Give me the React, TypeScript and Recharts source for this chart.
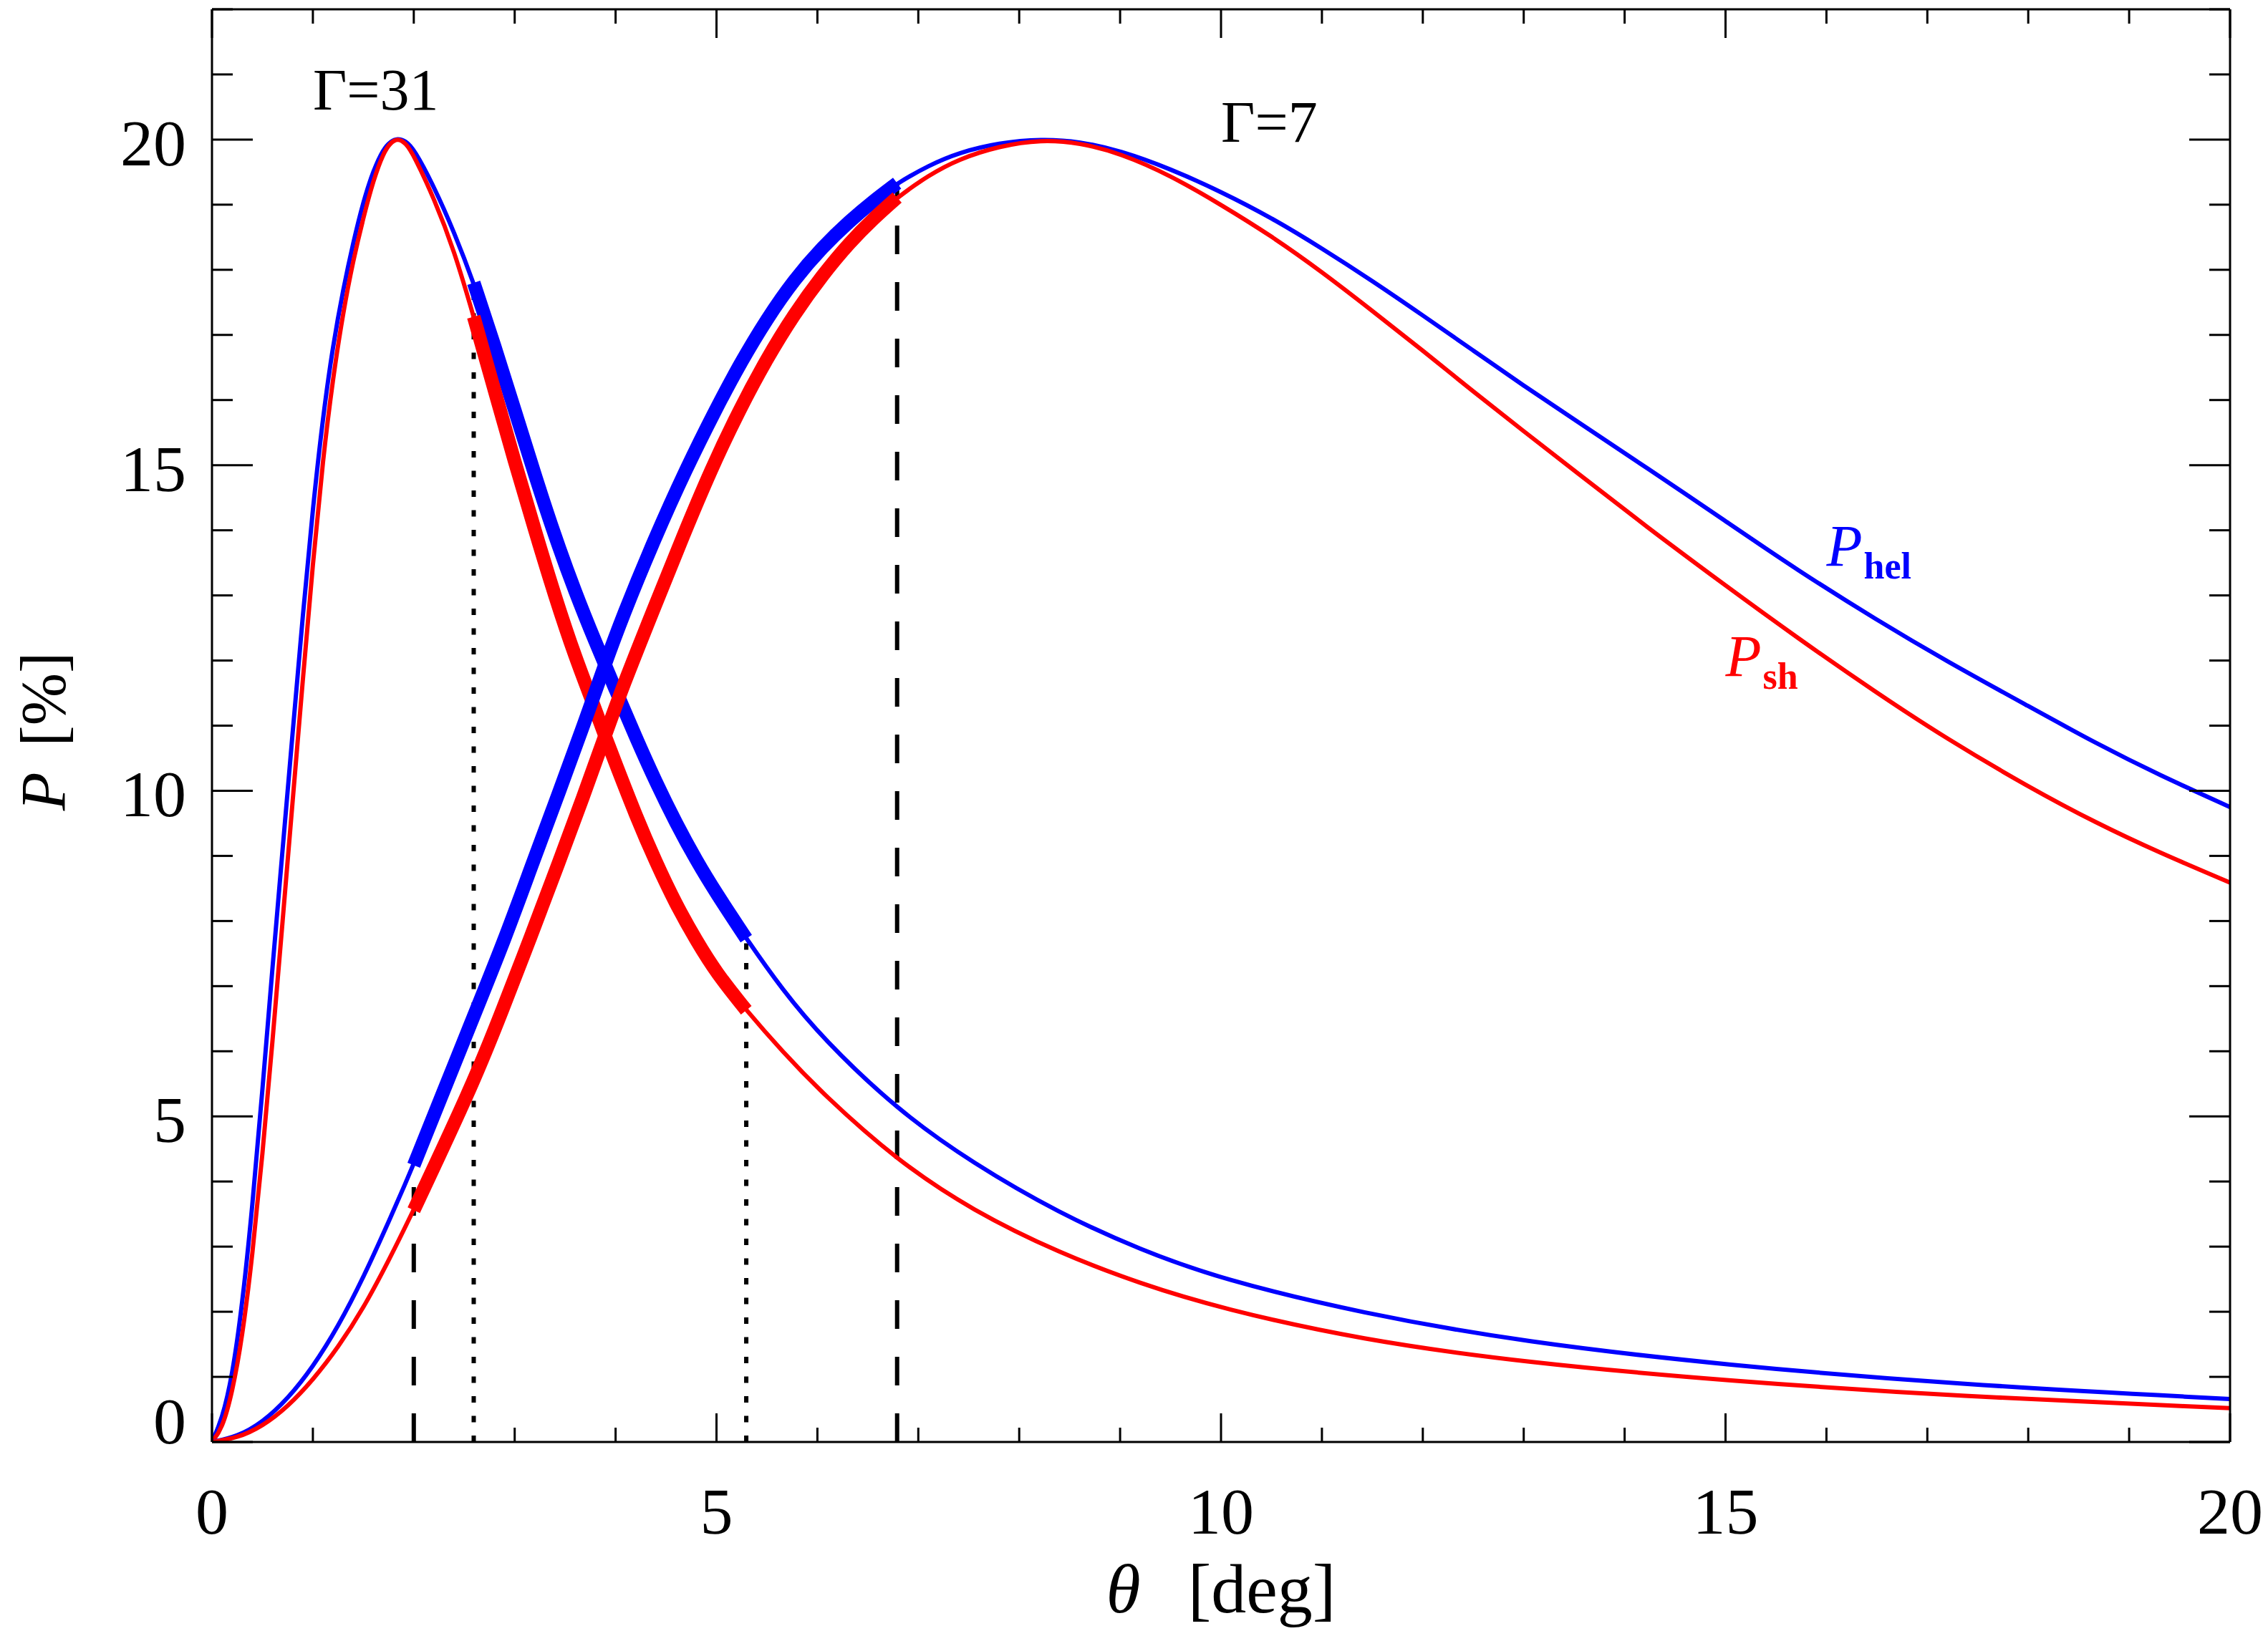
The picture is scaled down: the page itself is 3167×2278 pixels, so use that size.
import React from 'react';
import { ComposedChart, Line, XAxis, YAxis, ReferenceDot } from 'recharts';

const FONT = '"Liberation Serif", "DejaVu Serif", serif';
const BLUE = '#0000ff';
const RED = '#ff0000';

// ---- axis ticks ----
const thetaTicks = [0, 1, 2, 3, 4, 5, 6, 7, 8, 9, 10, 11, 12, 13, 14, 15, 16, 17, 18, 19, 20];
const thetaMajor = [0, 5, 10, 15, 20];
const pTicks = [0, 1, 2, 3, 4, 5, 6, 7, 8, 9, 10, 11, 12, 13, 14, 15, 16, 17, 18, 19, 20, 21, 22];
const pMajor = [0, 5, 10, 15, 20];

type Pair = [number, number];

// ---- series (theta [deg], P [%]) ----
const hel31: Pair[] = [
  [0, 0], [0.1, 0.35], [0.2, 1.0], [0.3, 2.1], [0.4, 3.6], [0.5, 5.4], [0.6, 7.3], [0.7, 9.1], [0.8, 10.9],
  [0.9, 12.7], [1.0, 14.35], [1.1, 15.75], [1.2, 16.85], [1.3, 17.7], [1.4, 18.42], [1.5, 19.05], [1.6, 19.53],
  [1.7, 19.86], [1.77, 19.97], [1.837, 20.02], [1.92, 19.98], [2.0, 19.86], [2.2, 19.28], [2.4, 18.58],
  [2.594, 17.8], [2.8, 16.84], [3.0, 15.85], [3.2, 14.85], [3.4, 13.9], [3.6, 13.05], [3.8, 12.28],
  [4.0, 11.55], [4.2, 10.82], [4.4, 10.13], [4.6, 9.5], [4.8, 8.93], [5.0, 8.42], [5.295, 7.73], [5.65, 6.95],
  [6.05, 6.2], [6.79, 5.1], [7.54, 4.28], [8.4, 3.51], [9.2, 2.95], [10, 2.5], [11.38, 1.98], [13.01, 1.53],
  [15, 1.18], [17.31, 0.88], [20, 0.66],
];

const sh31: Pair[] = [
  [0, 0], [0.1, 0.2], [0.2, 0.75], [0.3, 1.6], [0.4, 2.85], [0.5, 4.4], [0.6, 6.15], [0.7, 8.0], [0.8, 9.85],
  [0.9, 11.7], [1.0, 13.5], [1.1, 15.1], [1.2, 16.35], [1.3, 17.35], [1.4, 18.15], [1.5, 18.8], [1.6, 19.38],
  [1.7, 19.8], [1.77, 19.95], [1.837, 20.02], [1.92, 19.95], [2.0, 19.76], [2.2, 19.1], [2.4, 18.3],
  [2.594, 17.28], [2.8, 16.15], [3.0, 15.05], [3.2, 14.0], [3.4, 12.98], [3.6, 12.05], [3.8, 11.25],
  [3.885, 10.88], [4.0, 10.42], [4.2, 9.62], [4.4, 8.9], [4.6, 8.25], [4.8, 7.7], [5.0, 7.2], [5.295, 6.63],
  [5.65, 6.0], [6.05, 5.35], [6.79, 4.32], [7.54, 3.55], [8.4, 2.9], [9.2, 2.43], [10, 2.05], [11.38, 1.57],
  [13.01, 1.22], [15, 0.94], [17.31, 0.7], [20, 0.52],
];

const hel7: Pair[] = [
  [0, 0], [0.25, 0.08], [0.5, 0.3], [0.75, 0.66], [1.0, 1.15], [1.25, 1.77], [1.5, 2.52], [1.75, 3.38],
  [2.0, 4.25], [2.594, 6.54], [2.9, 7.71], [3.175, 8.88], [3.45, 10.02], [3.7, 11.08], [3.885, 11.9],
  [4.07, 12.68], [4.38, 13.85], [4.7, 14.95], [5.0, 15.88], [5.23, 16.55], [5.5, 17.25], [5.77, 17.85],
  [6.05, 18.35], [6.32, 18.75], [6.55, 19.05], [6.79, 19.33], [7.1, 19.6], [7.4, 19.8], [7.8, 19.95],
  [8.22, 20.01], [8.6, 19.97], [9.0, 19.83], [9.5, 19.55], [10.0, 19.2], [10.5, 18.8], [11.0, 18.33],
  [11.5, 17.83], [12.0, 17.3], [12.5, 16.76], [13.0, 16.22], [13.5, 15.7], [14.22, 14.96], [15.0, 14.14],
  [15.71, 13.39], [16.5, 12.62], [17.19, 11.99], [18.0, 11.3], [18.68, 10.72], [19.3, 10.24], [20, 9.75],
];

const sh7: Pair[] = [
  [0, 0], [0.25, 0.06], [0.5, 0.24], [0.75, 0.54], [1.0, 0.95], [1.25, 1.45], [1.5, 2.05], [1.75, 2.78],
  [2.0, 3.56], [2.594, 5.52], [2.875, 6.62], [3.16, 7.76], [3.435, 8.89], [3.68, 9.91], [3.885, 10.8],
  [4.07, 11.6], [4.38, 12.8], [4.66, 13.88], [4.95, 14.95], [5.23, 15.86], [5.5, 16.64], [5.77, 17.32],
  [6.05, 17.92], [6.32, 18.42], [6.55, 18.78], [6.79, 19.11], [7.1, 19.45], [7.4, 19.7], [7.8, 19.9],
  [8.22, 20.0], [8.6, 19.95], [9.0, 19.79], [9.5, 19.45], [10.0, 19.0], [10.5, 18.52], [11.0, 17.97],
  [11.5, 17.37], [12.0, 16.76], [12.5, 16.13], [13.0, 15.52], [13.5, 14.92], [14.22, 14.05], [15.0, 13.15],
  [15.71, 12.35], [16.5, 11.5], [17.19, 10.8], [18.0, 10.06], [18.68, 9.5], [19.3, 9.05], [20, 8.59],
];

// ranges drawn thick, and marked with vertical lines
const range31: Pair = [2.594, 5.295];
const range7: Pair = [2.0, 6.79];

// annotation anchors (data space)
const gammaLabels = [
  { t: 1.0, p: 20.46, text: 'Γ=31' },
  { t: 10.0, p: 19.97, text: 'Γ=7' },
];
const seriesLabels = [
  { t: 16.0, p: 13.46, sub: 'hel', color: BLUE },
  { t: 15.0, p: 11.76, sub: 'sh', color: RED },
];

// ---- helpers ----
const toPts = (a: Pair[]) => a.map(([t, p]) => ({ t, p }));
const within = (a: Pair[], [lo, hi]: Pair) => toPts(a.filter(([t]) => t >= lo - 1e-9 && t <= hi + 1e-9));
const valueAt = (a: Pair[], t: number) => {
  const f = a.find(([x]) => Math.abs(x - t) < 1e-9);
  return f ? f[1] : 0;
};
const vLine = (t: number, top: number) => [{ t, p: 0 }, { t, p: top }];

const BottomTick = (props: any) => {
  const { x, y, payload } = props;
  const v = payload.value;
  const major = thetaMajor.includes(v);
  return (
    <g>
      <line x1={x} x2={x} y1={y} y2={y - (major ? 40 : 20)} stroke="#000" strokeWidth={3} />
      {major && (
        <text x={x} y={y + 128} textAnchor="middle" fontFamily={FONT} fontSize={92} fill="#000">
          {v}
        </text>
      )}
    </g>
  );
};

const TopTick = (props: any) => {
  const { x, y, payload } = props;
  const major = thetaMajor.includes(payload.value);
  return <line x1={x} x2={x} y1={y} y2={y + (major ? 40 : 20)} stroke="#000" strokeWidth={3} />;
};

const LeftTick = (props: any) => {
  const { x, y, payload } = props;
  const v = payload.value;
  const major = pMajor.includes(v);
  return (
    <g>
      <line x1={x} x2={x + (major ? 57 : 29)} y1={y} y2={y} stroke="#000" strokeWidth={3} />
      {major && (
        <text x={x - 36} y={y + (v === 0 ? 2 : 36)} textAnchor="end" fontFamily={FONT} fontSize={92} fill="#000">
          {v}
        </text>
      )}
    </g>
  );
};

const RightTick = (props: any) => {
  const { x, y, payload } = props;
  const major = pMajor.includes(payload.value);
  return <line x1={x} x2={x - (major ? 57 : 29)} y1={y} y2={y} stroke="#000" strokeWidth={3} />;
};

const XTitle = (props: any) => {
  const vb = props.viewBox || { x: 288, y: 2006, width: 2818, height: 100 };
  return (
    <text x={vb.x + vb.width / 2} y={vb.y + 238} textAnchor="middle" fontFamily={FONT} fontSize={98} fill="#000">
      <tspan fontStyle="italic">θ</tspan>
      <tspan dx={66}>[deg]</tspan>
    </text>
  );
};

const YTitle = (props: any) => {
  const vb = props.viewBox || { x: 188, y: 5, width: 100, height: 2001 };
  const cx = vb.x - 106;
  const cy = vb.y + vb.height / 2 + 8;
  return (
    <g transform={`translate(${cx}, ${cy}) rotate(-90)`}>
      <text x={0} y={0} textAnchor="middle" fontFamily={FONT} fontSize={88} fill="#000">
        <tspan fontStyle="italic">P</tspan>
        <tspan dx={36}>[%]</tspan>
      </text>
    </g>
  );
};

const thin = 6;
const thick = 19;
const CURVE = 'basis';

export default function App() {
  const ax = { xAxisId: 'b', yAxisId: 'l' };
  return (
    <div style={{ width: 3159, height: 2270, background: '#fff' }}>
      <ComposedChart width={3159} height={2270} margin={{ top: 4, right: 52, left: 188, bottom: 164 }}>
        <XAxis
          xAxisId="b"
          dataKey="t"
          type="number"
          domain={[0, 20]}
          ticks={thetaTicks}
          interval={0}
          allowDataOverflow
          height={100}
          tickSize={0}
          tickMargin={0}
          tickLine={false}
          axisLine={{ stroke: '#000', strokeWidth: 3 }}
          tick={<BottomTick />}
          label={<XTitle />}
        />
        <XAxis
          xAxisId="t"
          orientation="top"
          dataKey="t"
          type="number"
          domain={[0, 20]}
          ticks={thetaTicks}
          interval={0}
          allowDataOverflow
          height={1}
          tickSize={0}
          tickMargin={0}
          tickLine={false}
          axisLine={{ stroke: '#000', strokeWidth: 3 }}
          tick={<TopTick />}
        />
        <YAxis
          yAxisId="l"
          type="number"
          domain={[0, 22]}
          ticks={pTicks}
          interval={0}
          allowDataOverflow
          width={100}
          tickSize={0}
          tickMargin={0}
          tickLine={false}
          axisLine={{ stroke: '#000', strokeWidth: 3 }}
          tick={<LeftTick />}
          label={<YTitle />}
        />
        <YAxis
          yAxisId="r"
          orientation="right"
          type="number"
          domain={[0, 22]}
          ticks={pTicks}
          interval={0}
          allowDataOverflow
          width={1}
          tickSize={0}
          tickMargin={0}
          tickLine={false}
          axisLine={{ stroke: '#000', strokeWidth: 3 }}
          tick={<RightTick />}
        />

        {/* vertical markers */}
        {range7.map((t, i) => (
          <Line
            key={`d${i}`}
            {...ax}
            data={vLine(t, valueAt(hel7, t))}
            dataKey="p"
            type="linear"
            dot={false}
            stroke="#000"
            strokeWidth={6}
            strokeDasharray="40 39"
            isAnimationActive={false}
          />
        ))}
        {range31.map((t, i) => (
          <Line
            key={`o${i}`}
            {...ax}
            data={vLine(t, valueAt(hel31, t))}
            dataKey="p"
            type="linear"
            dot={false}
            stroke="#000"
            strokeWidth={6}
            strokeDasharray="9 18.5"
            isAnimationActive={false}
          />
        ))}

        {/* thin full curves */}
        <Line {...ax} data={toPts(hel31)} dataKey="p" type={CURVE} dot={false} stroke={BLUE} strokeWidth={thin} isAnimationActive={false} />
        <Line {...ax} data={toPts(sh31)} dataKey="p" type={CURVE} dot={false} stroke={RED} strokeWidth={thin} isAnimationActive={false} />
        <Line {...ax} data={toPts(hel7)} dataKey="p" type={CURVE} dot={false} stroke={BLUE} strokeWidth={thin} isAnimationActive={false} />
        <Line {...ax} data={toPts(sh7)} dataKey="p" type={CURVE} dot={false} stroke={RED} strokeWidth={thin} isAnimationActive={false} />

        {/* thick highlighted ranges */}
        <Line {...ax} data={within(hel31, range31)} dataKey="p" type={CURVE} dot={false} stroke={BLUE} strokeWidth={thick} strokeLinecap="butt" isAnimationActive={false} />
        <Line {...ax} data={within(sh31, range31)} dataKey="p" type={CURVE} dot={false} stroke={RED} strokeWidth={thick} strokeLinecap="butt" isAnimationActive={false} />
        <Line {...ax} data={within(hel7, range7)} dataKey="p" type={CURVE} dot={false} stroke={BLUE} strokeWidth={thick} strokeLinecap="butt" isAnimationActive={false} />
        <Line {...ax} data={within(sh7, range7)} dataKey="p" type={CURVE} dot={false} stroke={RED} strokeWidth={thick} strokeLinecap="butt" isAnimationActive={false} />

        {gammaLabels.map((g, i) => (
          <ReferenceDot
            key={`g${i}`}
            {...ax}
            x={g.t}
            y={g.p}
            r={0}
            shape={(p: any) => (
              <text x={p.cx} y={p.cy} fontFamily={FONT} fontSize={82} fill="#000">
                {g.text}
              </text>
            )}
          />
        ))}
        {seriesLabels.map((s, i) => (
          <ReferenceDot
            key={`s${i}`}
            {...ax}
            x={s.t}
            y={s.p}
            r={0}
            shape={(p: any) => (
              <text x={p.cx} y={p.cy} fontFamily={FONT} fontSize={82} fill={s.color}>
                <tspan fontStyle="italic">P</tspan>
                <tspan dy={18} dx={2} fontSize={52} fontWeight="bold">
                  {s.sub}
                </tspan>
              </text>
            )}
          />
        ))}
      </ComposedChart>
    </div>
  );
}
